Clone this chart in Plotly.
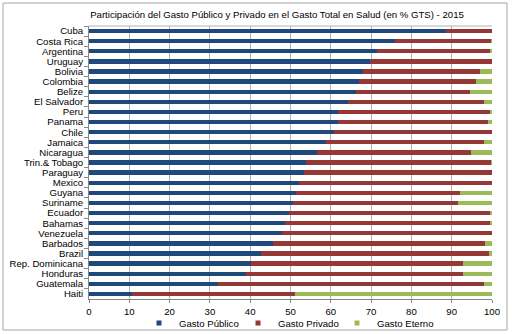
import plotly.graph_objects as go

countries = ["Cuba", "Costa Rica", "Argentina", "Uruguay", "Bolivia", "Colombia", "Belize",
             "El Salvador", "Peru", "Panama", "Chile", "Jamaica", "Nicaragua", "Trin.& Tobago",
             "Paraguay", "Mexico", "Guyana", "Suriname", "Ecuador", "Bahamas", "Venezuela",
             "Barbados", "Brazil", "Rep. Dominicana", "Honduras", "Guatemala", "Haiti"]
publico = [88.7, 76.0, 71.5, 69.8, 68.1, 66.9, 66.3, 64.3, 61.8, 61.7, 60.8, 58.7, 56.6, 53.9,
           53.4, 52.1, 51.4, 50.5, 49.7, 48.7, 47.8, 45.7, 42.7, 40.3, 38.9, 31.9, 10.7]
privado = [11.3, 23.8, 28.0, 30.2, 28.8, 29.1, 28.2, 33.6, 37.7, 37.3, 39.2, 39.2, 38.3, 45.9,
           46.6, 47.9, 40.7, 41.1, 49.9, 50.9, 52.2, 52.6, 56.6, 52.5, 54.0, 66.0, 40.5]
externo = [0.0, 0.2, 0.5, 0.0, 3.1, 4.0, 5.5, 2.1, 0.5, 1.0, 0.0, 2.1, 5.1, 0.2,
           0.0, 0.0, 7.9, 8.4, 0.4, 0.4, 0.0, 1.7, 0.7, 7.2, 7.1, 2.1, 48.8]
ticks = list(range(0, 101, 10))

series = [("Gasto Público", publico, "#1F497D"),
          ("Gasto Privado", privado, "#953735"),
          ("Gasto Eterno", externo, "#9BBB59")]

fig = go.Figure()
for name, vals, color in series:
    fig.add_trace(go.Bar(y=countries, x=vals, name=name, orientation="h", showlegend=False,
                         marker=dict(color=color, line=dict(width=0))))
# legend-only entries with small square symbols
for name, vals, color in series:
    fig.add_trace(go.Scatter(x=[None], y=[None], mode="markers", name=name,
                             marker=dict(symbol="square", size=5, color=color)))

font = "Liberation Sans, Arial, sans-serif"
fs = 9.6
fig.update_layout(
    width=514, height=334,
    barmode="stack", bargap=0.58,
    margin=dict(l=89, r=22, t=26, b=35, autoexpand=False),
    paper_bgcolor="white", plot_bgcolor="white",
    font=dict(family=font, size=fs, color="black"),
    title=dict(text="Participación del Gasto Público y Privado en el Gasto Total en Salud (en % GTS) - 2015",
               font=dict(family=font, size=fs, color="black"),
               x=277 / 514, xanchor="center", xref="container",
               y=1 - 15 / 334, yanchor="middle", yref="container"),
    xaxis=dict(range=[0, 100], tickvals=ticks, ticktext=[str(t) for t in ticks],
               showgrid=True, gridcolor="#b3b3b3", gridwidth=1,
               showline=True, linecolor="#868686", linewidth=1,
               ticks="outside", ticklen=3, tickcolor="#868686",
               zeroline=False, tickfont=dict(size=fs), automargin=False),
    yaxis=dict(autorange="reversed", showline=True, linecolor="#868686", linewidth=1,
               ticks="outside", ticklen=4, tickcolor="#868686", tickson="boundaries",
               tickmode="linear", dtick=1, ticklabelstandoff=3,
               showgrid=False, tickfont=dict(size=fs), automargin=False),
    legend=dict(orientation="h", x=139 / 514, xanchor="left", xref="container",
                y=1 - 323 / 334, yanchor="middle", yref="container",
                font=dict(size=fs), itemwidth=30, entrywidth=54, traceorder="normal",
                bgcolor="rgba(0,0,0,0)"),
    shapes=[dict(type="line", xref="paper", yref="paper", x0=0, x1=1, y0=1, y1=1,
                 line=dict(color="#b3b3b3", width=1)),
            dict(type="rect", xref="paper", yref="paper", x0=-86 / 403, x1=1 + 15 / 403,
                 y0=-31 / 273, y1=1 + 23 / 273, line=dict(color="#a6a6a6", width=1))],
)

fig.write_html("out.html", config={"displayModeBar": False},
               post_script="document.body.style.margin='0';document.body.style.overflow='hidden';")
